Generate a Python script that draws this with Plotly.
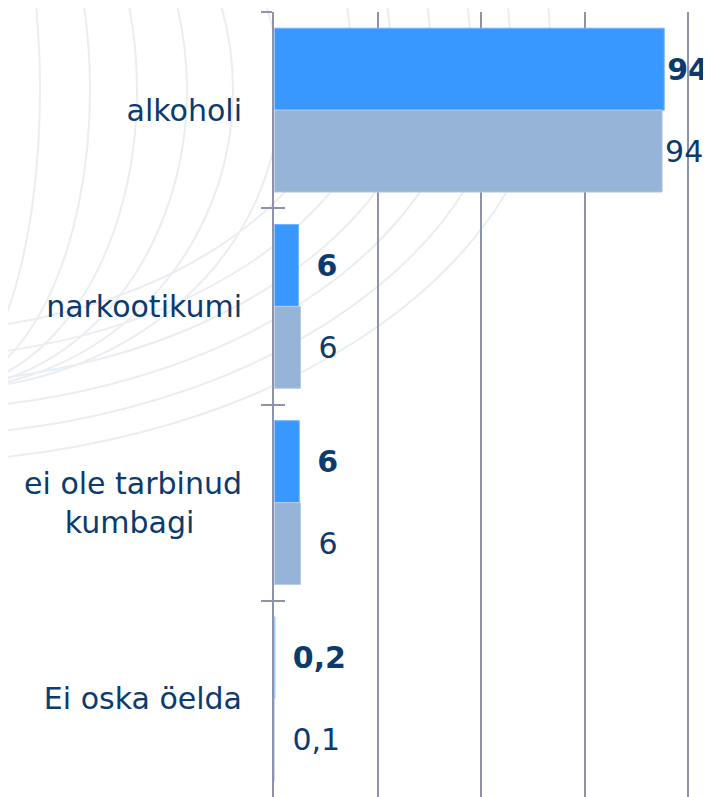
import plotly.graph_objects as go

categories = ["alkoholi", "narkootikumi", "ei ole tarbinud<br>kumbagi\u00a0\u00a0\u00a0\u00a0\u00a0", "Ei oska öelda"]
series_a = [94.2, 5.9, 6.1, 0.2]
series_b = [93.7, 6.4, 6.4, 0.1]
series_a_labels = ["94", "6", "6", "0,2"]
series_b_labels = ["94", "6", "6", "0,1"]

TEXT = "#0B3B6E"
GRID = "#8F93A9"
FONT = "DejaVu Sans"
ARC = "#EAEDF1"

# page body has an 8px margin; plot area spans window x 274..711, y 12..797
L, T, PW, PH = 274, 12, 437, 785


def pad(labels, values):
    return [("\u2002" + t) if v < 50 else t for t, v in zip(labels, values)]


def px(x):
    return (x - L) / PW


def py(y):
    return (T + PH - y) / PH


fig = go.Figure()
fig.add_trace(go.Bar(
    y=categories, x=series_a, orientation="h",
    marker=dict(color="#3898FF", line=dict(color="#6FB4FF", width=1)),
    text=[f"<b>{t}</b>" for t in pad(series_a_labels, series_a)],
    textposition="outside", cliponaxis=False,
    textfont=dict(family=FONT, size=30, color=TEXT),
    showlegend=False, hoverinfo="skip",
))
fig.add_trace(go.Bar(
    y=categories, x=series_b, orientation="h",
    marker=dict(color="#96B3D8", line=dict(color="#B7CBE6", width=1)),
    text=pad(series_b_labels, series_b),
    textposition="outside", cliponaxis=False,
    textfont=dict(family=FONT, size=30, color=TEXT),
    showlegend=False, hoverinfo="skip",
))
# invisible trace for the overlay axis (inside half of the crossing ticks)
fig.add_trace(go.Bar(
    y=categories, x=[0] * len(categories), orientation="h", yaxis="y2",
    marker=dict(color="rgba(0,0,0,0)"), showlegend=False, hoverinfo="skip",
))

# decorative faint globe-like arcs in the background
shapes = []
cx, cy = -60, 90
for rx in [100, 150, 197, 247, 293, 340]:
    ry = 300
    shapes.append(dict(type="circle", xref="paper", yref="paper", layer="below",
                       x0=px(cx - rx), x1=px(cx + rx), y0=py(cy + ry), y1=py(cy - ry),
                       line=dict(color=ARC, width=2)))
cx2, cy2 = -100, 40
for rx in [450, 490, 530, 570, 610, 650]:
    ry = rx * 0.65
    shapes.append(dict(type="circle", xref="paper", yref="paper", layer="below",
                       x0=px(cx2 - rx), x1=px(cx2 + rx), y0=py(cy2 + ry), y1=py(cy2 - ry),
                       line=dict(color=ARC, width=2)))

fig.update_layout(
    width=703, height=789,
    margin=dict(l=266, r=0, t=4, b=0),
    paper_bgcolor="rgba(0,0,0,0)", plot_bgcolor="rgba(0,0,0,0)",
    barmode="group", bargap=0.165, bargroupgap=0,
    separators=", ",
    font=dict(family=FONT, size=30, color=TEXT),
    shapes=shapes,
    xaxis=dict(range=[0, 105.5], dtick=25, showticklabels=False, showgrid=True,
               gridcolor=GRID, gridwidth=2, zeroline=False, showline=False, fixedrange=True),
    yaxis=dict(type="category", autorange="reversed", showline=True, linecolor=GRID, linewidth=2,
               ticks="outside", ticklen=11, tickwidth=2, tickcolor=GRID, tickson="boundaries",
               tickfont=dict(family=FONT, size=30, color=TEXT), ticklabelstandoff=24,
               showgrid=False, automargin=False),
    yaxis2=dict(type="category", overlaying="y", side="left", autorange="reversed",
                ticks="inside", ticklen=11, tickwidth=2, tickcolor=GRID, tickson="boundaries",
                showticklabels=False, showline=False, showgrid=False, automargin=False),
)

fig.write_html("out.html")
